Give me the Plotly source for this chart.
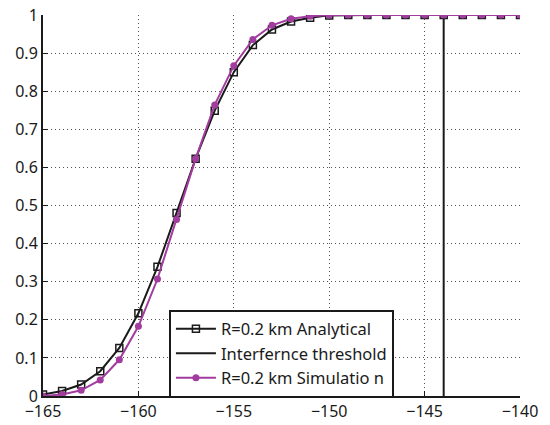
import plotly.graph_objects as go

x_vals = list(range(-165, -139))
analytical = [0.004, 0.013, 0.03, 0.065, 0.126, 0.217, 0.339, 0.48, 0.623, 0.749, 0.85, 0.921,
              0.962, 0.983, 0.993, 0.999, 1, 1, 1, 1, 1, 1, 1, 1, 1, 1]
simulation = [0.0, 0.004, 0.015, 0.042, 0.095, 0.183, 0.307, 0.463, 0.623, 0.764, 0.867, 0.936,
              0.973, 0.99, 0.997, 1, 1, 1, 1, 1, 1, 1, 1, 1, 1, 1]
threshold_x = [-144, -144]
threshold_y = [0, 1]
x_ticks = [-165, -160, -155, -150, -145, -140]
y_ticks = [0, 0.1, 0.2, 0.3, 0.4, 0.5, 0.6, 0.7, 0.8, 0.9, 1]
y_ticktext = ["0", "0.1", "0.2", "0.3", "0.4", "0.5", "0.6", "0.7", "0.8", "0.9", "1"]

fig = go.Figure()
fig.add_trace(go.Scatter(x=x_vals, y=analytical, mode="lines+markers",
                         name="R=0.2 km Analytical",
                         line=dict(color="#1a1a1a", width=2),
                         marker=dict(symbol="square-open", size=7, color="#1a1a1a",
                                     line=dict(width=1.5, color="#1a1a1a"))))
fig.add_trace(go.Scatter(x=threshold_x, y=threshold_y, mode="lines",
                         name="Interfernce threshold",
                         line=dict(color="#1a1a1a", width=2)))
fig.add_trace(go.Scatter(x=x_vals, y=simulation, mode="lines+markers",
                         name="R=0.2 km Simulatio n",
                         line=dict(color="#a23c9f", width=2),
                         marker=dict(symbol="circle", size=7, color="#a23c9f")))

fig.update_layout(
    width=542, height=417,
    margin=dict(l=35, r=30, t=7, b=29, autoexpand=False),
    plot_bgcolor="white", paper_bgcolor="white",
    font=dict(family="Noto Sans, Liberation Sans, sans-serif", size=16, color="#1a1a1a"),
    showlegend=True,
    legend=dict(x=0.264, y=0.227, xanchor="left", yanchor="top",
                bordercolor="#1a1a1a", borderwidth=2, bgcolor="white",
                font=dict(size=16.5), tracegroupgap=0, itemwidth=40),
)
axis_style = dict(showgrid=True, gridcolor="#555555", griddash="1px,3px", gridwidth=1,
                  showline=True, linecolor="#1a1a1a", linewidth=2, ticks="inside", ticklen=5,
                  tickcolor="#1a1a1a", zeroline=False, tickfont=dict(size=16), automargin=False,
                  ticklabeloverflow="allow")
fig.update_xaxes(range=[-165, -140], tickmode="array", tickvals=x_ticks, **axis_style)
fig.update_yaxes(range=[0, 1], tickmode="array", tickvals=y_ticks, ticktext=y_ticktext, **axis_style)

fig.write_html("out.html")
